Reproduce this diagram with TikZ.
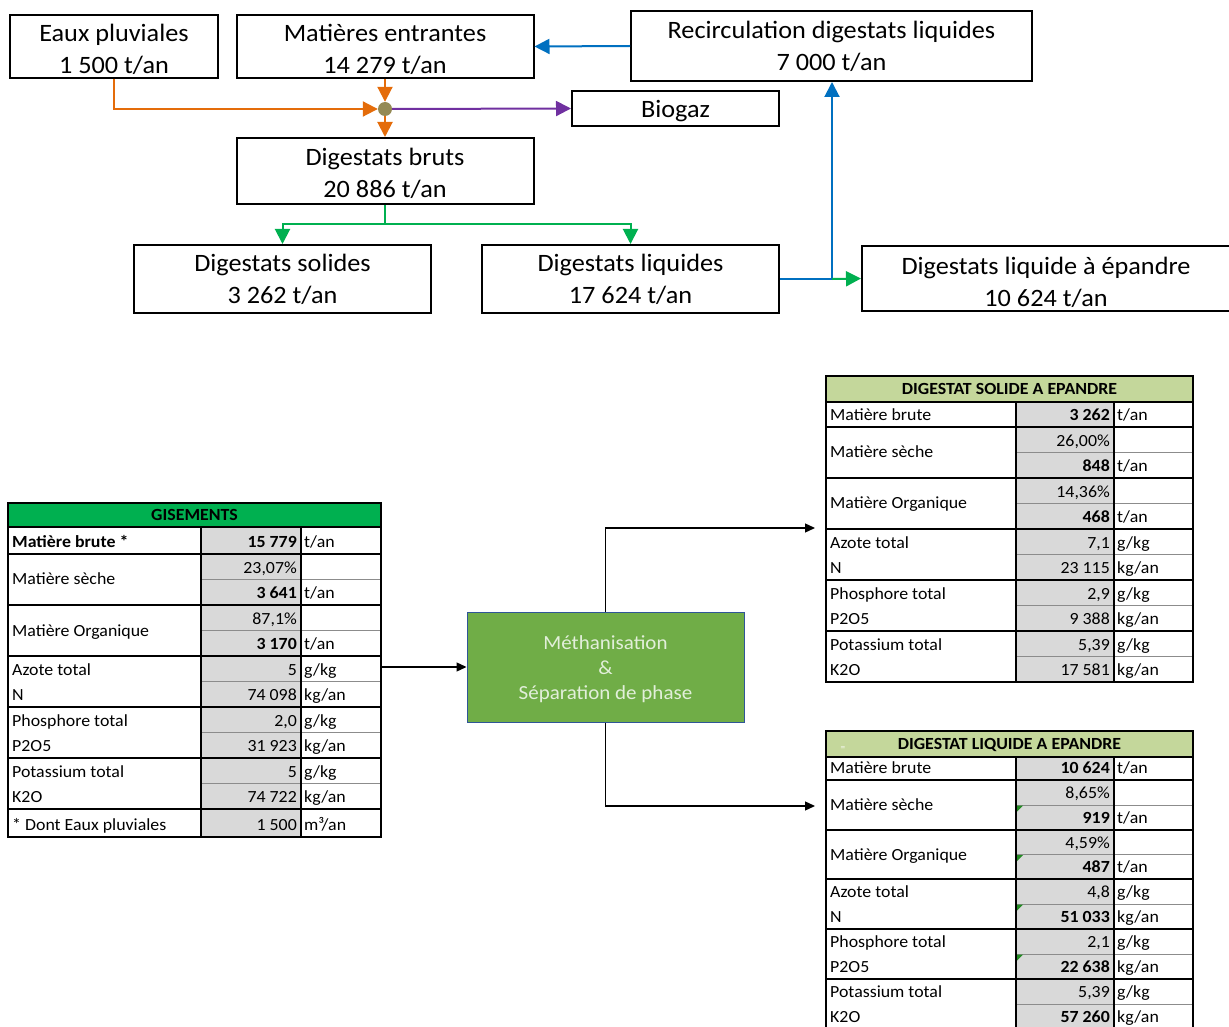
\documentclass[tikz,border=0pt]{standalone}
\usepackage{fontspec}
\setmainfont{Carlito}[FakeStretch=1.05]
\usetikzlibrary{arrows.meta}
\definecolor{corange}{HTML}{E46C0A}
\definecolor{cpurple}{HTML}{7030A0}
\definecolor{cblue}{HTML}{0070C0}
\definecolor{cgreen}{HTML}{00B050}
\definecolor{cdot}{HTML}{948A54}
\definecolor{methfill}{HTML}{70AD47}
\definecolor{methdraw}{HTML}{2F5597}
\definecolor{methtext}{HTML}{E2EFDA}
\definecolor{lgreen}{HTML}{C4D79B}
\definecolor{cellgray}{HTML}{D9D9D9}
\definecolor{subline}{HTML}{8C8C8C}
\definecolor{errgreen}{HTML}{228B22}
\begin{document}
\begin{tikzpicture}[x=1pt,y=-1pt,
  flowbox/.style={draw, line width=2pt, inner sep=0pt},
  flowtext/.style={inner sep=0pt, align=center, font=\fontsize{25}{32}\selectfont},
  flow/.style={line width=2pt, -{Triangle[length=15pt,width=15pt]}},
  plainline/.style={line width=2pt},
  blk/.style={line width=1.3pt, -{Triangle[length=10pt,width=9pt]}},
  tl/.style={anchor=base west, inner sep=0pt, font=\fontsize{17}{19}\selectfont},
  tv/.style={anchor=base east, inner sep=0pt, font=\fontsize{17}{19}\selectfont},
  tvb/.style={tv, font=\fontsize{17}{19}\selectfont\bfseries},
  tu/.style={anchor=base west, inner sep=0pt, font=\fontsize{17}{19}\selectfont},
  thead/.style={anchor=base, inner sep=0pt, font=\fontsize{17}{19}\selectfont\bfseries},
  major/.style={line width=1.2pt, black},
  minor/.style={line width=0.9pt, subline},
  outer/.style={line width=2pt, black}
]
\useasboundingbox (0,0) rectangle (1229,1027);
\clip (0,0) rectangle (1229,1027);

% ---------------- top flow diagram ----------------
\node[flowbox, minimum width=208pt, minimum height=63pt] (eaux) at (114,46.5) {};
\node[flowbox, minimum width=297pt, minimum height=63pt] (mat) at (385,46.5) {};
\node[flowbox, minimum width=401pt, minimum height=70pt] (recirc) at (831.5,46) {};
\node[flowbox, minimum width=207pt, minimum height=35pt] (biogaz) at (675.5,108.5) {};
\node[flowbox, minimum width=297pt, minimum height=66pt] (bruts) at (385,171) {};
\node[flowbox, minimum width=297pt, minimum height=68pt] (solides) at (282.5,279) {};
\node[flowbox, minimum width=297pt, minimum height=68pt] (liquides) at (630.5,279) {};
\node[flowbox, minimum width=368pt, minimum height=65pt] (epandre) at (1046,278.5) {};

\node[flowtext] (eauxT) at (114,49.5) {Eaux pluviales\\1 500 t/an};
\node[flowtext] (matT) at (385,49.5) {Matières entrantes\\14 279 t/an};
\node[flowtext] (recircT) at (831.5,46) {Recirculation digestats liquides\\7 000 t/an};
\node[flowtext] (biogazT) at (675.5,111.5) {Biogaz};
\node[flowtext] (brutsT) at (385,173) {Digestats bruts\\20 886 t/an};
\node[flowtext] (solidesT) at (282.5,279.5) {Digestats solides\\3 262 t/an};
\node[flowtext] (liquidesT) at (630.5,279.5) {Digestats liquides\\17 624 t/an};
\node[flowtext] (epandreT) at (1046,282) {Digestats liquide à épandre\\10 624 t/an};

\node[circle, fill=cdot, minimum size=14pt, inner sep=0pt] (dot) at (385,109) {};

\draw[flow, corange] (eaux.south) |- (dot.west);
\draw[flow, corange] (mat.south) -- (dot.north);
\draw[flow, corange] (dot.south) -- (bruts.north);
\draw[flow, cpurple] (dot.east) -- (biogaz.west);
\draw[flow, cblue] (recirc.west) -- (mat.east);

\coordinate (gsplit) at (385,224);
\draw[plainline, cgreen] (bruts.south) -- (gsplit);
\draw[flow, cgreen] (gsplit) -| (solides.north);
\draw[flow, cgreen] (gsplit) -| (liquides.north);

\coordinate (bj) at (832,279);
\draw[plainline, cblue] (liquides.east) -- (bj);
\draw[flow, cblue] (bj) -- (bj |- recirc.south);
\draw[flow, cgreen] (bj) -- (epandre.west);

% ---------------- methanisation ----------------
\node[draw=methdraw, line width=1pt, fill=methfill, minimum width=277pt, minimum height=110pt, inner sep=0pt] (meth) at (605.5,667) {};
\node[inner sep=0pt, align=center, text=methtext, font=\fontsize{20}{25}\selectfont] (methT) at (605.5,669)
      {Méthanisation\\\&\\Séparation de phase};
\coordinate (gisR) at (381,667);
\coordinate (solidIn) at (815,528);
\coordinate (liqIn) at (815,806);
\draw[blk] (gisR) -- (meth.west);
\draw[blk] (meth.north) |- (solidIn);
\draw[blk] (meth.south) |- (liqIn);

% ---------------- GISEMENTS table ----------------
\fill[cgreen] (8,503) rectangle (381,527);
\fill[cellgray] (201,527) rectangle (301,837);
\foreach \yy in {579.5,630.5,681.5,732.5,783.5} \draw[minor] (201,\yy) -- (381,\yy);
\foreach \yy in {527,554,605,656,707,758,809} \draw[major] (8,\yy) -- (381,\yy);
\draw[major] (201,527) -- (201,837);
\draw[major] (301,527) -- (301,837);
\draw[outer] (8,503) rectangle (381,837);

\node[thead] (gh) at (194.5,520.5) {GISEMENTS};
\node[tl, font=\fontsize{17}{19}\selectfont\bfseries] (g1l) at (12,547.5) {Matière brute *};
\node[tvb] (g1v) at (297,547.5) {15 779};
\node[tu] (g1u) at (304,547.5) {t/an};
\node[tl] (g2l) at (12,584.5) {Matière sèche};
\node[tv] (g2v) at (297,573) {23,07\%};
\node[tvb] (g3v) at (297,598.5) {3 641};
\node[tu] (g3u) at (304,598.5) {t/an};
\node[tl] (g4l) at (12,636.5) {Matière Organique};
\node[tv] (g4v) at (297,624) {87,1\%};
\node[tvb] (g5v) at (297,649.5) {3 170};
\node[tu] (g5u) at (304,649.5) {t/an};
\node[tl] (g6l) at (12,675) {Azote total};
\node[tv] (g6v) at (297,675) {5};
\node[tu] (g6u) at (304,675) {g/kg};
\node[tl] (g7l) at (12,700.5) {N};
\node[tv] (g7v) at (297,700.5) {74 098};
\node[tu] (g7u) at (304,700.5) {kg/an};
\node[tl] (g8l) at (12,726) {Phosphore total};
\node[tv] (g8v) at (297,726) {2,0};
\node[tu] (g8u) at (304,726) {g/kg};
\node[tl] (g9l) at (12,751.5) {P2O5};
\node[tv] (g9v) at (297,751.5) {31 923};
\node[tu] (g9u) at (304,751.5) {kg/an};
\node[tl] (g10l) at (12,777) {Potassium total};
\node[tv] (g10v) at (297,777) {5};
\node[tu] (g10u) at (304,777) {g/kg};
\node[tl] (g11l) at (12,802.5) {K2O};
\node[tv] (g11v) at (297,802.5) {74 722};
\node[tu] (g11u) at (304,802.5) {kg/an};
\node[tl] (g12l) at (12,830.5) {* Dont Eaux pluviales};
\node[tv] (g12v) at (297,830.5) {1 500};
\node[tu] (g12u) at (304,830.5) {m³/an};

% ---------------- DIGESTAT SOLIDE table ----------------
\fill[lgreen] (826,376) rectangle (1193,402);
\fill[cellgray] (1016,402) rectangle (1114,682);
\foreach \yy in {452.5,503.5,554.5,605.5,656.5} \draw[minor] (1016,\yy) -- (1193,\yy);
\foreach \yy in {402,427,478,529,580,631} \draw[major] (826,\yy) -- (1193,\yy);
\draw[major] (1016,402) -- (1016,682);
\draw[major] (1114,402) -- (1114,682);
\draw[outer] (826,376) rectangle (1193,682);

\node[thead] (sh) at (1009.5,394.5) {DIGESTAT SOLIDE A EPANDRE};
\node[tl] (s1l) at (830,420.5) {Matière brute};
\node[tvb] (s1v) at (1110,420.5) {3 262};
\node[tu] (s1u) at (1117,420.5) {t/an};
\node[tl] (s2l) at (830,457.5) {Matière sèche};
\node[tv] (s2v) at (1110,446) {26,00\%};
\node[tvb] (s3v) at (1110,471.5) {848};
\node[tu] (s3u) at (1117,471.5) {t/an};
\node[tl] (s4l) at (830,508.5) {Matière Organique};
\node[tv] (s4v) at (1110,497) {14,36\%};
\node[tvb] (s5v) at (1110,522.5) {468};
\node[tu] (s5u) at (1117,522.5) {t/an};
\node[tl] (s6l) at (830,548) {Azote total};
\node[tv] (s6v) at (1110,548) {7,1};
\node[tu] (s6u) at (1117,548) {g/kg};
\node[tl] (s7l) at (830,573.5) {N};
\node[tv] (s7v) at (1110,573.5) {23 115};
\node[tu] (s7u) at (1117,573.5) {kg/an};
\node[tl] (s8l) at (830,599) {Phosphore total};
\node[tv] (s8v) at (1110,599) {2,9};
\node[tu] (s8u) at (1117,599) {g/kg};
\node[tl] (s9l) at (830,624.5) {P2O5};
\node[tv] (s9v) at (1110,624.5) {9 388};
\node[tu] (s9u) at (1117,624.5) {kg/an};
\node[tl] (s10l) at (830,650) {Potassium total};
\node[tv] (s10v) at (1110,650) {5,39};
\node[tu] (s10u) at (1117,650) {g/kg};
\node[tl] (s11l) at (830,675.5) {K2O};
\node[tv] (s11v) at (1110,675.5) {17 581};
\node[tu] (s11u) at (1117,675.5) {kg/an};

% ---------------- DIGESTAT LIQUIDE table ----------------
\fill[lgreen] (826,731) rectangle (1193,757);
\fill[cellgray] (1016,757) rectangle (1114,1029);
\foreach \yy in {805,854.5,904,954,1004} \draw[minor] (1016,\yy) -- (1193,\yy);
\foreach \yy in {757,780,830,879,929,979} \draw[major] (826,\yy) -- (1193,\yy);
\draw[major] (1016,757) -- (1016,1029);
\draw[major] (1114,757) -- (1114,1029);
\draw[outer] (826,731) rectangle (1193,1029);
\foreach \yy in {805,854.5,904,954} \fill[errgreen] (1017,\yy+0.5) -- ++(6,0) -- ++(-6,6) -- cycle;

\node[anchor=base, inner sep=0pt, text=white!85!lgreen, font=\fontsize{9}{10}\selectfont] (leq) at (843,750) {=};
\node[thead] (lh) at (1009.5,749.5) {DIGESTAT LIQUIDE A EPANDRE};
\node[tl] (l1l) at (830,773.5) {Matière brute};
\node[tvb] (l1v) at (1110,773.5) {10 624};
\node[tu] (l1u) at (1117,773.5) {t/an};
\node[tl] (l2l) at (830,810.5) {Matière sèche};
\node[tv] (l2v) at (1110,798.5) {8,65\%};
\node[tvb] (l3v) at (1110,823.5) {919};
\node[tu] (l3u) at (1117,823.5) {t/an};
\node[tl] (l4l) at (830,860.5) {Matière Organique};
\node[tv] (l4v) at (1110,848) {4,59\%};
\node[tvb] (l5v) at (1110,872.5) {487};
\node[tu] (l5u) at (1117,872.5) {t/an};
\node[tl] (l6l) at (830,897.5) {Azote total};
\node[tv] (l6v) at (1110,897.5) {4,8};
\node[tu] (l6u) at (1117,897.5) {g/kg};
\node[tl] (l7l) at (830,922.5) {N};
\node[tvb] (l7v) at (1110,922.5) {51 033};
\node[tu] (l7u) at (1117,922.5) {kg/an};
\node[tl] (l8l) at (830,947.5) {Phosphore total};
\node[tv] (l8v) at (1110,947.5) {2,1};
\node[tu] (l8u) at (1117,947.5) {g/kg};
\node[tl] (l9l) at (830,972.5) {P2O5};
\node[tvb] (l9v) at (1110,972.5) {22 638};
\node[tu] (l9u) at (1117,972.5) {kg/an};
\node[tl] (l10l) at (830,997.5) {Potassium total};
\node[tv] (l10v) at (1110,997.5) {5,39};
\node[tu] (l10u) at (1117,997.5) {g/kg};
\node[tl] (l11l) at (830,1022.5) {K2O};
\node[tvb] (l11v) at (1110,1022.5) {57 260};
\node[tu] (l11u) at (1117,1022.5) {kg/an};
\end{tikzpicture}
\end{document}
